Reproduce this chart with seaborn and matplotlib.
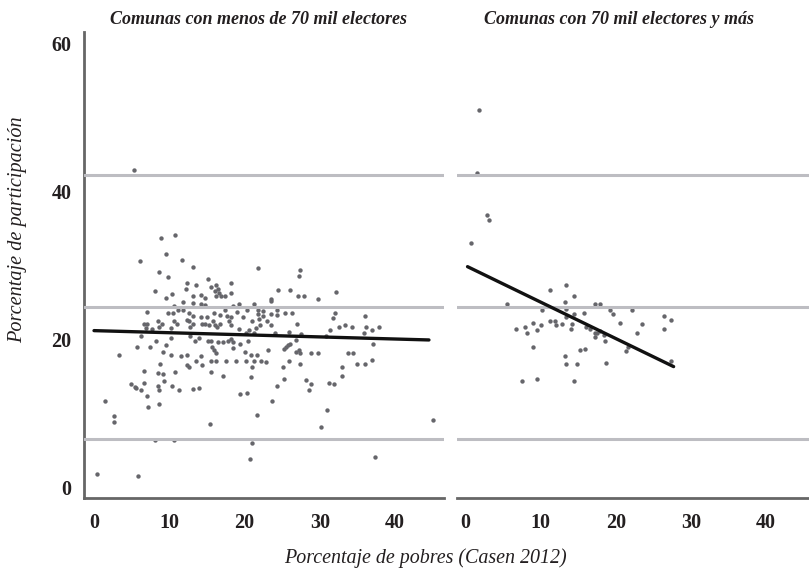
import matplotlib
matplotlib.use("Agg")
import matplotlib.pyplot as plt
import numpy as np
import pandas as pd
import seaborn as sns

# --- Communes with fewer than 70k voters: poverty % vs. turnout % ---
pobres_menos = [
    5.3, 10.8, 8.9, 9.5, 6.1, 11.7, 13.2, 8.6, 9.8, 12.4, 13.6, 12.2, 8.1, 10.4, 13.2, 14.2, 9.6,
    21.8, 27.4, 27.2, 15.2, 18.2, 16.2, 15.6, 16.5, 16.1, 24.5, 26.0, 18.2, 16.6, 16.2, 16.9, 17.4,
    27.1, 27.9, 14.8, 23.5, 29.7, 32.1,
    10.6, 11.8, 13.1, 14.2, 7.0, 9.8, 10.5, 11.2, 11.8, 12.6, 13.1, 14.2, 8.5, 10.6, 12.3, 12.6,
    6.6, 7.1, 9.0, 8.6, 11.0, 13.1, 6.9, 7.7, 10.2, 12.8, 14.4, 6.3, 10.2, 12.8, 13.4, 14.0, 8.2,
    9.6, 5.7, 7.4, 9.2, 3.3, 10.2, 11.6, 12.3, 13.5, 14.2, 14.4, 8.8, 12.3, 12.6, 6.6, 8.5, 9.1,
    10.7, 9.3, 4.9, 6.7, 5.5, 8.5, 10.3,
    14.8, 18.5, 19.3, 21.3, 23.5, 15.0, 16.0, 16.7, 17.4, 17.7, 18.2, 19.0, 19.8, 20.3, 21.8, 21.8,
    22.5, 22.5, 23.5, 24.3, 24.3, 25.4, 26.3, 14.8, 15.3, 15.8, 16.1, 16.4, 16.7, 18.0, 18.2, 21.0,
    21.9, 22.1, 23.0, 23.5, 27.0, 19.2, 20.2, 20.6, 21.2, 21.5, 24.0, 25.9, 27.5, 15.1, 15.5, 16.5,
    17.2, 17.8, 18.2, 18.4, 19.4, 20.5, 26.8, 15.7, 15.9, 16.2, 18.5, 20.1, 20.8, 21.6, 23.1, 25.2,
    25.5, 25.8, 26.1, 26.8, 27.2, 27.4, 28.8, 29.7, 15.5, 16.2, 17.5, 18.9, 20.2, 21.2, 22.2, 22.9,
    21.0, 25.9, 27.4, 25.1, 15.5, 17.2, 20.8, 25.3, 24.3, 28.2, 28.8,
    32.0, 31.7, 36.0, 31.3, 32.6, 33.3, 34.3, 35.9, 36.2, 36.9, 37.9, 30.8, 37.1, 33.7, 34.4, 35.0,
    36.0, 37.0, 32.9, 32.9, 31.2, 31.9,
    5.6, 6.3, 8.7, 11.3, 13.1, 14.0, 19.4, 20.3, 28.5, 1.4, 7.0, 7.2, 8.6, 23.7, 30.9, 2.7, 2.6,
    15.4, 21.7, 30.1, 45.0, 8.1, 10.6, 21.0, 20.7, 37.3, 0.4, 5.9,
]
particip_menos = [
    42.9, 34.1, 33.7, 31.5, 30.6, 30.7, 29.8, 29.1, 28.4, 27.6, 27.3, 26.8, 26.5, 26.1, 25.9, 26.0, 25.6,
    29.6, 29.4, 28.5, 28.2, 27.6, 27.3, 27.1, 26.8, 26.5, 26.7, 26.6, 26.3, 26.2, 25.9, 25.8, 25.8,
    25.8, 25.9, 25.5, 25.4, 25.4, 26.4,
    24.5, 25.0, 24.9, 24.8, 23.7, 23.6, 23.6, 23.9, 23.9, 23.6, 23.1, 23.0, 22.5, 22.4, 22.6, 22.4,
    22.1, 22.0, 22.0, 21.7, 22.0, 22.1, 21.5, 21.4, 21.5, 21.7, 22.0, 20.5, 20.2, 20.4, 19.7, 20.2, 19.7,
    19.2, 19.0, 19.0, 18.3, 17.8, 17.8, 17.7, 17.8, 17.1, 17.7, 16.5, 16.7, 16.5, 16.2, 15.7, 15.5, 15.3,
    15.6, 14.4, 14.0, 14.1, 13.5, 13.7, 13.7,
    24.6, 24.5, 24.7, 24.7, 25.2, 23.0, 23.6, 23.3, 23.9, 23.2, 23.0, 23.7, 23.0, 23.9, 23.9, 23.4,
    23.8, 23.2, 23.4, 23.9, 23.3, 23.6, 23.5, 22.1, 21.9, 22.4, 21.9, 21.7, 22.1, 22.5, 21.9, 22.5,
    22.7, 21.9, 22.4, 21.9, 22.1, 21.4, 20.9, 21.2, 20.9, 21.5, 20.8, 21.0, 20.7, 19.8, 19.7, 19.6,
    19.6, 19.7, 20.0, 19.6, 19.4, 19.8, 19.9, 19.0, 18.6, 18.1, 18.8, 18.3, 17.9, 17.9, 18.6, 18.7,
    19.0, 19.2, 19.3, 18.3, 18.6, 18.2, 18.1, 18.2, 17.1, 17.1, 17.1, 17.1, 17.1, 17.1, 17.1, 16.9,
    16.2, 17.0, 16.7, 16.3, 15.6, 15.0, 14.9, 14.6, 13.7, 14.5, 13.9,
    23.6, 22.9, 23.1, 21.3, 21.7, 21.9, 21.6, 20.9, 21.6, 21.2, 21.7, 20.5, 19.3, 18.2, 18.2, 16.7,
    16.6, 17.2, 16.3, 15.0, 14.1, 13.9,
    13.4, 13.1, 13.1, 13.1, 13.3, 13.4, 12.6, 12.7, 13.1, 11.6, 12.3, 10.8, 11.3, 11.7, 10.5, 9.6, 8.8,
    8.6, 9.7, 8.1, 9.1, 6.4, 6.4, 6.0, 3.8, 4.1, 1.8, 1.5,
]

# --- Communes with 70k voters or more ---
pobres_mas = [
    1.8, 1.6, 2.9, 3.2, 0.7, 5.5, 11.2, 13.4, 14.5, 13.2, 17.2, 17.9, 10.2, 13.4, 14.5, 15.8,
    19.3, 19.7, 22.2, 26.4, 27.4, 9.0, 8.0, 8.2, 6.8, 9.5, 10.1, 11.3, 11.9, 12.1, 12.9, 13.4,
    14.0, 14.2, 16.1, 16.6, 17.2, 17.2, 17.5, 17.9, 18.5, 18.6, 20.6, 23.5, 22.8, 26.4, 21.7,
    21.4, 9.0, 15.3, 15.9, 13.2, 13.4, 14.9, 18.7, 27.3, 7.5, 9.6, 14.4,
]
particip_mas = [
    50.9, 42.4, 36.8, 36.1, 33.0, 24.8, 26.7, 27.3, 25.9, 25.0, 24.8, 24.8, 24.0, 24.1, 23.4, 23.5,
    24.0, 23.4, 24.0, 23.1, 22.6, 22.2, 21.7, 20.9, 21.4, 21.3, 21.9, 22.4, 22.5, 21.9, 22.0, 23.0,
    21.4, 22.0, 21.7, 21.4, 20.9, 20.3, 20.9, 21.1, 20.6, 19.8, 22.2, 22.1, 20.9, 21.4, 19.0,
    18.4, 18.9, 18.5, 18.7, 17.7, 16.7, 16.7, 16.8, 17.0, 14.4, 14.6, 14.4,
]

# Fitted lines (endpoints over each group's poverty range)
fit_menos_x = [0.0, 44.5]
fit_menos_y = [21.16, 19.9]
fit_mas_x = [0.3, 27.7]
fit_mas_y = [29.8, 16.3]

# Horizontal reference levels
ref_levels = [42.2, 24.3, 6.5]

titles = ["Comunas con menos de 70 mil electores", "Comunas con 70 mil electores y más"]
x_ticks = [0, 10, 20, 30, 40]
y_ticks = [0, 20, 40, 60]
x_label = "Porcentaje de pobres (Casen 2012)"
y_label = "Porcentaje de participación"

df = pd.concat([
    pd.DataFrame({"pobres": pobres_menos, "participacion": particip_menos, "grupo": titles[0]}),
    pd.DataFrame({"pobres": pobres_mas, "participacion": particip_mas, "grupo": titles[1]}),
])

sns.set_style("white")
plt.rcParams["font.family"] = ["Liberation Serif", "DejaVu Serif"]

W, H = 809, 571
fig = plt.figure(figsize=(W / 100, H / 100), dpi=100)

spine_col = "#666666"
point_col = "#66666b"
ref_col = "#bdbdc2"
text_col = "#231f20"

ylim = (-1.45, 61.5)
ax1 = fig.add_axes([84 / W, 1 - 498 / H, 360 / W, 466 / H])
ax2 = fig.add_axes([457 / W, 1 - 498 / H, 352 / W, 466 / H])
ax1.set_xlim(-1.33, 46.5)
ax2.set_xlim(-1.1, 45.7)

fits = [(fit_menos_x, fit_menos_y), (fit_mas_x, fit_mas_y)]
for ax, grupo, (fx, fy) in zip([ax1, ax2], titles, fits):
    sub = df[df["grupo"] == grupo]
    sns.scatterplot(data=sub, x="pobres", y="participacion", ax=ax,
                    color=point_col, s=10, linewidth=0, zorder=2)
    for lvl in ref_levels:
        ax.axhline(lvl, color=ref_col, lw=2.2, zorder=3)
    sns.lineplot(x=fx, y=fy, ax=ax, color="#111111", lw=2.4, zorder=4)
    ax.set_ylim(*ylim)
    ax.set_xticks(x_ticks)
    ax.set_xticklabels([str(t) for t in x_ticks], fontsize=14.5, fontweight="bold", color=text_col)
    ax.set_xlabel("")
    ax.set_ylabel("")
    for s in ["top", "right"]:
        ax.spines[s].set_visible(False)
    ax.spines["bottom"].set_color(spine_col)
    ax.spines["bottom"].set_linewidth(2)
    ax.tick_params(axis="x", direction="out", length=6, width=2, color=spine_col, pad=5)

ax1.spines["left"].set_color(spine_col)
ax1.spines["left"].set_linewidth(2)
ax1.set_yticks(y_ticks)
ax1.set_yticklabels([str(t) for t in y_ticks], fontsize=14.5, fontweight="bold", color=text_col)
ax1.tick_params(axis="y", direction="out", length=5, width=2, color=spine_col, pad=4)

ax2.spines["left"].set_visible(False)
ax2.set_yticks([])

fig.text(258 / W, 1 - 20 / H, titles[0], ha="center", va="center",
         fontsize=13, fontweight="bold", style="italic", color=text_col)
fig.text(619 / W, 1 - 20 / H, titles[1], ha="center", va="center",
         fontsize=13, fontweight="bold", style="italic", color=text_col)
fig.text(425 / W, 1 - 558 / H, x_label, ha="center", va="center",
         fontsize=14.4, style="italic", color=text_col)
fig.text(18 / W, 1 - 230 / H, y_label, ha="center", va="center", rotation=90,
         fontsize=14.6, style="italic", color=text_col)

fig.savefig("out.png", dpi=100)
